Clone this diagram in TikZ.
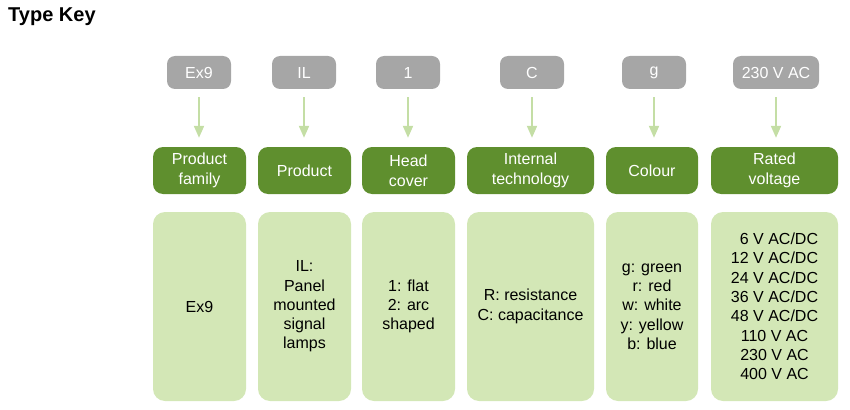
\documentclass[tikz,border=0pt]{standalone}
\usepackage{fontspec}
\setmainfont{Liberation Sans}
\usetikzlibrary{arrows.meta}
\definecolor{keygray}{HTML}{A6A6A6}
\definecolor{keygreen}{HTML}{5F8F2E}
\definecolor{keylight}{HTML}{D3E7B6}
\definecolor{keyarrow}{HTML}{C4DEA5}
\tikzset{
  codebox/.style={fill=keygray, rounded corners=8pt, minimum height=33pt, minimum width=64pt, inner sep=0pt, text=white, font=\fontsize{16}{19.5}\selectfont},
  fieldbox/.style={fill=keygreen, rounded corners=10pt, minimum height=47pt, inner sep=0pt, text=white, align=center, font=\fontsize{16}{20}\selectfont},
  valuebox/.style={fill=keylight, rounded corners=12pt, minimum height=189pt, inner sep=0pt, text=black, align=center, font=\fontsize{16}{19.3}\selectfont},
  keyarrowline/.style={draw=keyarrow, line width=2pt, -{Triangle[width=10pt,length=12pt]}, shorten <=8pt, shorten >=9pt},
}
\begin{document}
\begin{tikzpicture}[x=1pt,y=-1pt]
\useasboundingbox (0,0) rectangle (850,409);
\node[anchor=base west, inner sep=0pt, font=\fontsize{20}{24}\bfseries\selectfont] (title) at (8,22) {Type Key};
% code boxes
\node[codebox] (c1) at (199,72.5) {Ex9};
\node[codebox] (c2) at (304,72.5) {IL};
\node[codebox] (c3) at (408,72.5) {1};
\node[codebox] (c4) at (532,72.5) {C};
\node[codebox] (c5) at (654,72.5) {g};
\node[codebox, minimum width=86pt] (c6) at (776,72.5) {230 V AC};
% field boxes
\node[fieldbox, minimum width=93pt] (f1) at (199.5,170.5) {Product\\family};
\node[fieldbox, minimum width=93pt] (f2) at (304.5,170.5) {Product};
\node[fieldbox, minimum width=93pt] (f3) at (408.5,170.5) {Head\\cover};
\node[fieldbox, minimum width=127pt] (f4) at (530.5,170.5) {Internal\\technology};
\node[fieldbox, minimum width=92pt] (f5) at (652,170.5) {Colour};
\node[fieldbox, minimum width=127pt] (f6) at (774.5,170.5) {Rated\\voltage};
% value boxes
\node[valuebox, minimum width=93pt] (v1) at (199.5,306.5) {Ex9};
\node[valuebox, minimum width=93pt] (v2) at (304.5,306.5) {IL:\\Panel\\mounted\\signal\\lamps};
\node[valuebox, minimum width=93pt] (v3) at (408.5,306.5) {1: flat\\2: arc\\shaped};
\node[valuebox, minimum width=127pt] (v4) at (530.5,306.5) {R: resistance\\C: capacitance};
\node[valuebox, minimum width=92pt] (v5) at (652,306.5) {g: green\\r: red\\w: white\\y: yellow\\b: blue};
\node[valuebox, minimum width=127pt] (v6) at (774.5,306.5) {\phantom{1}6 V AC/DC\\12 V AC/DC\\24 V AC/DC\\36 V AC/DC\\48 V AC/DC\\110 V AC\\230 V AC\\400 V AC};
% arrows
\foreach \i in {1,...,6} {
  \draw[keyarrowline] (c\i.south) -- (c\i.south |- f\i.north);
}
\end{tikzpicture}
\end{document}
